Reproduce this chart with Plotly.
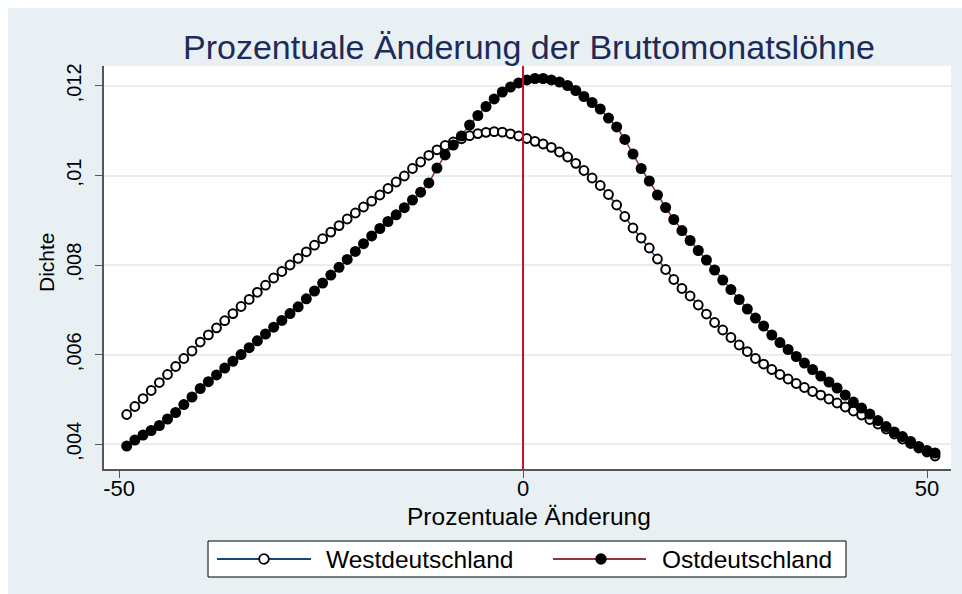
import plotly.graph_objects as go

# ---- data ----
x_grid = [-49.05, -48.04, -47.03, -46.02, -45.01, -44.00, -42.99, -41.98, -40.97, -39.95,
          -38.94, -37.93, -36.92, -35.91, -34.90, -33.89, -32.88, -31.87, -30.86, -29.85,
          -28.84, -27.83, -26.82, -25.81, -24.80, -23.79, -22.77, -21.76, -20.75, -19.74,
          -18.73, -17.72, -16.71, -15.70, -14.69, -13.68, -12.67, -11.66, -10.65, -9.64,
          -8.63, -7.62, -6.61, -5.59, -4.58, -3.57, -2.56, -1.55, -0.54, 0.47,
          1.48, 2.49, 3.50, 4.51, 5.52, 6.53, 7.54, 8.55, 9.56, 10.58,
          11.59, 12.60, 13.61, 14.62, 15.63, 16.64, 17.65, 18.66, 19.67, 20.68,
          21.69, 22.70, 23.71, 24.72, 25.73, 26.75, 27.76, 28.77, 29.78, 30.79,
          31.80, 32.81, 33.82, 34.83, 35.84, 36.85, 37.86, 38.87, 39.88, 40.89,
          41.90, 42.92, 43.93, 44.94, 45.95, 46.96, 47.97, 48.98, 49.99, 51.00]

west = [0.004665, 0.004844, 0.005022, 0.005201, 0.005379, 0.005558, 0.005737, 0.005915, 0.006083, 0.006283,
        0.006442, 0.006600, 0.006759, 0.006917, 0.007076, 0.007234, 0.007393, 0.007551, 0.007712, 0.007857,
        0.008002, 0.008149, 0.008297, 0.008444, 0.008589, 0.008737, 0.008882, 0.009029, 0.009163, 0.009297,
        0.009426, 0.009565, 0.009710, 0.009855, 0.009989, 0.010156, 0.010301, 0.010451, 0.010574, 0.010670,
        0.010748, 0.010819, 0.010888, 0.010935, 0.010964, 0.010978, 0.010967, 0.010931, 0.010882, 0.010826,
        0.010763, 0.010703, 0.010629, 0.010525, 0.010413, 0.010272, 0.010112, 0.009944, 0.009777, 0.009576,
        0.009341, 0.009085, 0.008828, 0.008605, 0.008382, 0.008136, 0.007902, 0.007679, 0.007478, 0.007310,
        0.007109, 0.006908, 0.006719, 0.006551, 0.006384, 0.006217, 0.006071, 0.005915, 0.005792, 0.005670,
        0.005558, 0.005458, 0.005357, 0.005268, 0.005179, 0.005100, 0.005011, 0.004922, 0.004833, 0.004743,
        0.004654, 0.004554, 0.004453, 0.004342, 0.004230, 0.004118, 0.004018, 0.003917, 0.003828, 0.003739]

ost = [0.003962, 0.004096, 0.004208, 0.004308, 0.004420, 0.004565, 0.004710, 0.004888, 0.005056, 0.005246,
       0.005397, 0.005549, 0.005701, 0.005853, 0.006004, 0.006158, 0.006310, 0.006462, 0.006614, 0.006766,
       0.006917, 0.007069, 0.007248, 0.007422, 0.007600, 0.007777, 0.007951, 0.008127, 0.008304, 0.008478,
       0.008650, 0.008817, 0.008973, 0.009123, 0.009281, 0.009453, 0.009627, 0.009833, 0.010167, 0.010458,
       0.010681, 0.010882, 0.011127, 0.011339, 0.011540, 0.011708, 0.011864, 0.011975, 0.012065, 0.012132,
       0.012165, 0.012165, 0.012132, 0.012087, 0.012009, 0.011897, 0.011763, 0.011629, 0.011484, 0.011283,
       0.011083, 0.010804, 0.010480, 0.010156, 0.009877, 0.009565, 0.009286, 0.009018, 0.008772, 0.008549,
       0.008326, 0.008114, 0.007891, 0.007667, 0.007455, 0.007232, 0.007020, 0.006819, 0.006641, 0.006440,
       0.006272, 0.006116, 0.005960, 0.005815, 0.005670, 0.005525, 0.005391, 0.005257, 0.005100, 0.004944,
       0.004810, 0.004676, 0.004531, 0.004397, 0.004275, 0.004174, 0.004063, 0.003951, 0.003862, 0.003806]

series_names = ["Westdeutschland", "Ostdeutschland"]
x_tick_vals = [-50, 0, 50]
x_tick_text = ["-50", "0", "50"]
y_tick_vals = [0.004, 0.006, 0.008, 0.010, 0.012]
y_tick_text = [",004", ",006", ",008", ",01", ",012"]
ref_line_x = 0

title_text = "Prozentuale Änderung der Bruttomonatslöhne"
x_title = "Prozentuale Änderung"
y_title = "Dichte"

# ---- layout geometry (pixels in the 962x594 window; page margin removed) ----
W, H = 962, 594
L, R, T, B = 104, 951, 66, 469
BG = "#e9f0f3"
GRID = "#e6eef1"
NAVY = "#1a476f"
MAROON = "#90353b"
FONT = "Liberation Sans, Arial, sans-serif"


def px(x):
    """window x pixel -> paper coordinate"""
    return (x - L) / (R - L)


def py(y):
    """window y pixel -> paper coordinate"""
    return (B - y) / (B - T)


fig = go.Figure()
fig.add_trace(go.Scatter(
    x=x_grid, y=west, mode="lines+markers", name=series_names[0],
    line=dict(color=NAVY, width=1.5),
    marker=dict(symbol="circle", size=8.8, color="white", line=dict(color="black", width=2)),
    showlegend=False))
fig.add_trace(go.Scatter(
    x=x_grid, y=ost, mode="lines+markers", name=series_names[1],
    line=dict(color=MAROON, width=1.5),
    marker=dict(symbol="circle", size=11, color="black", line=dict(color="black", width=0)),
    showlegend=False))

shapes = []
# white page strips at the top and left (the graph region starts 8px in)
shapes.append(dict(type="rect", xref="paper", yref="paper", x0=px(-5), x1=px(8), y0=py(600), y1=py(-5),
                   fillcolor="white", line=dict(width=0), layer="below"))
shapes.append(dict(type="rect", xref="paper", yref="paper", x0=px(-5), x1=px(970), y0=py(8), y1=py(-5),
                   fillcolor="white", line=dict(width=0), layer="below"))
# reference line at 0
shapes.append(dict(type="line", xref="x", yref="paper", x0=ref_line_x, x1=ref_line_x, y0=0, y1=1,
                   line=dict(color="#c8102e", width=2), layer="above"))

# legend drawn by hand (long line samples like the original)
lx0, lx1, ly0, ly1 = 208, 846, 541, 577
lyc = (ly0 + ly1) / 2
shapes.append(dict(type="rect", xref="paper", yref="paper", x0=px(lx0), x1=px(lx1), y0=py(ly1), y1=py(ly0),
                   fillcolor="white", line=dict(color="black", width=1)))
samples = [(217, 311, 264, NAVY, "white", 324, series_names[0]),
           (553, 646, 601, MAROON, "black", 660, series_names[1])]
annotations = []
for sx0, sx1, mx, col, mfill, tx, name in samples:
    shapes.append(dict(type="line", xref="paper", yref="paper", x0=px(sx0), x1=px(sx1), y0=py(lyc), y1=py(lyc),
                       line=dict(color=col, width=2)))
    r = 4.8
    shapes.append(dict(type="circle", xref="paper", yref="paper", x0=px(mx - r), x1=px(mx + r),
                       y0=py(lyc + r), y1=py(lyc - r), fillcolor=mfill, line=dict(color="black", width=1.8)))
    annotations.append(dict(text=name, xref="paper", yref="paper", x=px(tx), y=py(lyc), xanchor="left",
                            yanchor="middle", showarrow=False, font=dict(family=FONT, size=24.5, color="black")))

annotations.append(dict(text=title_text, xref="paper", yref="paper", x=px(529), y=py(47), xanchor="center",
                        yanchor="middle", showarrow=False, font=dict(family=FONT, size=34, color="#1c2b5a")))
annotations.append(dict(text=x_title, xref="paper", yref="paper", x=px(529), y=py(516), xanchor="center",
                        yanchor="middle", showarrow=False, font=dict(family=FONT, size=24.5, color="black")))
annotations.append(dict(text=y_title, xref="paper", yref="paper", x=px(46), y=py(262), xanchor="center",
                        yanchor="middle", textangle=-90, showarrow=False,
                        font=dict(family=FONT, size=21, color="black")))

fig.update_layout(
    width=W, height=H,
    margin=dict(l=L, r=W - R, t=T, b=H - B, pad=0),
    paper_bgcolor=BG, plot_bgcolor="white",
    showlegend=False,
    shapes=shapes, annotations=annotations,
    font=dict(family=FONT, color="black"),
)
fig.update_xaxes(range=[-51.86, 52.97], tickvals=x_tick_vals, ticktext=x_tick_text,
                 ticks="outside", ticklen=7, tickwidth=1.2, tickcolor="#555555",
                 showline=True, linecolor="#555555", linewidth=1.5, showgrid=False, zeroline=False,
                 ticklabelstandoff=-8,
                 tickfont=dict(family=FONT, size=22, color="black"))
fig.update_yaxes(range=[0.003449, 0.012444], tickvals=y_tick_vals, ticktext=y_tick_text, tickangle=-90,
                 ticks="outside", ticklen=7, tickwidth=1.2, tickcolor="#555555",
                 showline=True, linecolor="#555555", linewidth=1.5,
                 showgrid=True, gridcolor=GRID, gridwidth=1.5, zeroline=False,
                 ticklabelstandoff=6,
                 tickfont=dict(family=FONT, size=20, color="black"))

fig.write_html("out.html", config={"displayModeBar": False},
               post_script="document.body.style.margin='0';document.body.style.overflow='hidden';")
